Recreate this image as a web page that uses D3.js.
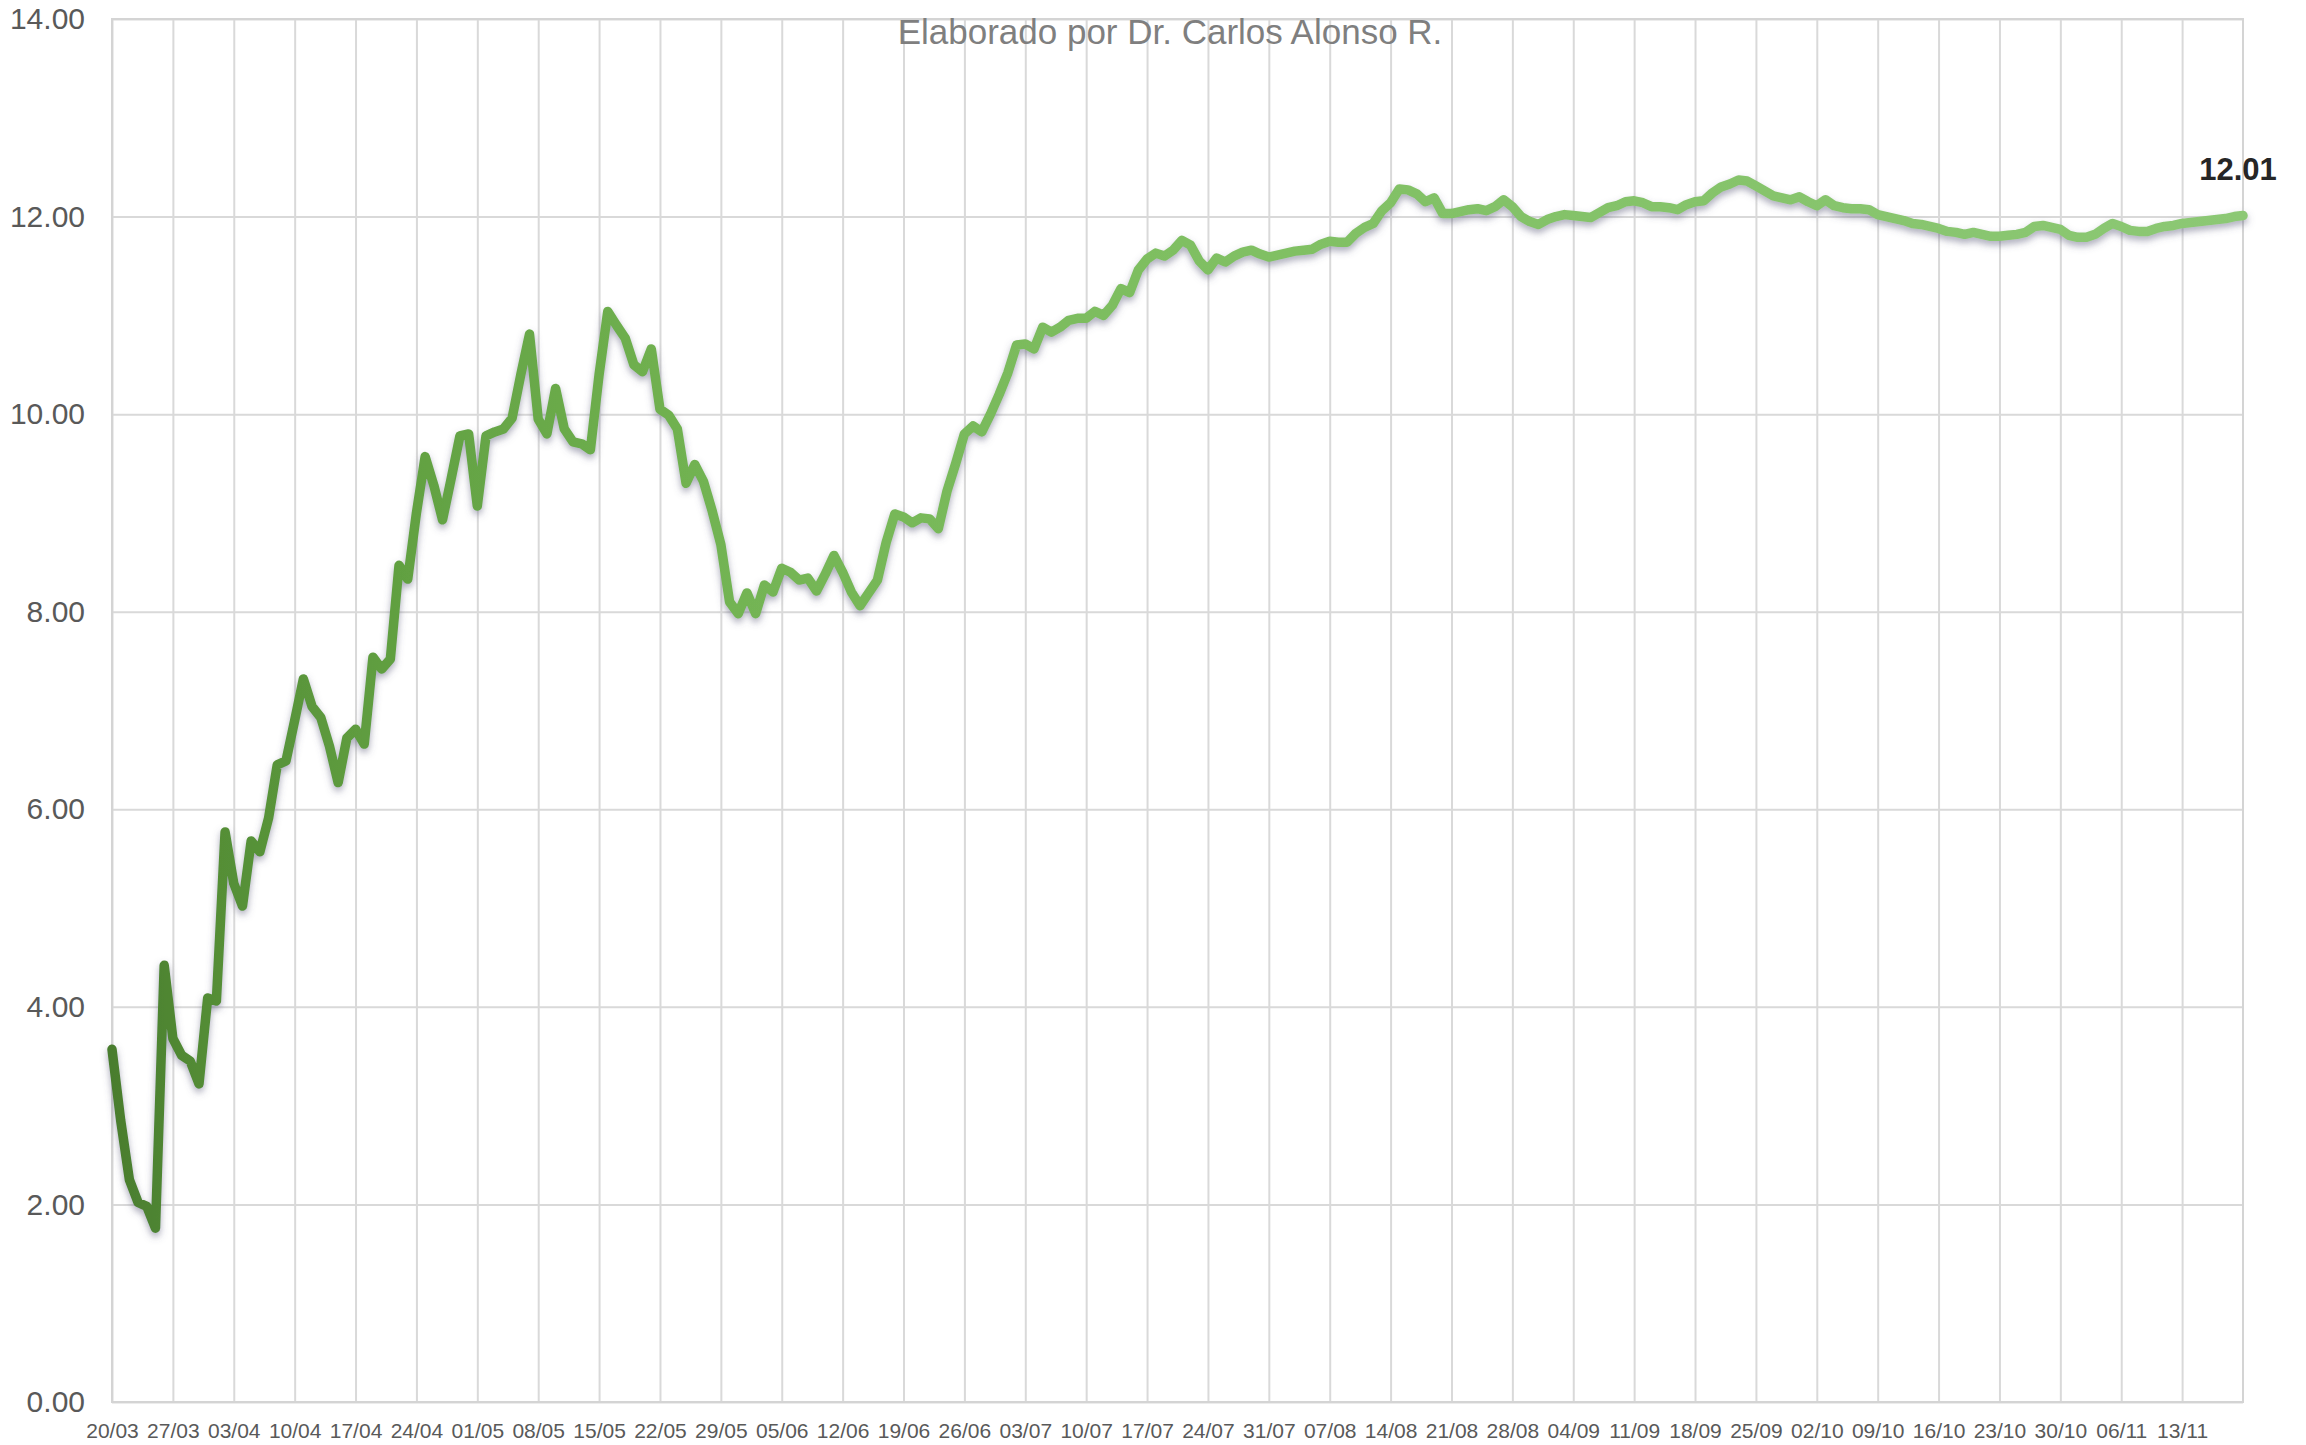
<!DOCTYPE html>
<html>
<head>
<meta charset="utf-8">
<script src="https://cdn.jsdelivr.net/npm/d3@7"></script>
<style>
  body { margin: 0; background: #ffffff; }
  svg { display: block; }
</style>
</head>
<body>
<div id="chart"></div>
<script>
var startDate = "20/03/2020";
var endDate = "20/11/2020";

var tickLabels = ["20/03","27/03","03/04","10/04","17/04","24/04","01/05","08/05","15/05","22/05",
  "29/05","05/06","12/06","19/06","26/06","03/07","10/07","17/07","24/07","31/07","07/08","14/08",
  "21/08","28/08","04/09","11/09","18/09","25/09","02/10","09/10","16/10","23/10","30/10","06/11","13/11"];

var yTicks = [0, 2, 4, 6, 8, 10, 12, 14];

// one value per day, 20/03 -> 20/11
var values = [
  3.57, 2.85, 2.25, 2.02, 1.98, 1.76, 4.42, 3.68, 3.51, 3.45,
  3.22, 4.09, 4.06, 5.77, 5.25, 5.02, 5.68, 5.57, 5.91, 6.45,
  6.49, 6.90, 7.32, 7.04, 6.93, 6.64, 6.27, 6.72, 6.81, 6.66,
  7.54, 7.42, 7.52, 8.47, 8.33, 9.00, 9.57, 9.28, 8.93, 9.35,
  9.78, 9.80, 9.07, 9.78, 9.82, 9.85, 9.96, 10.40, 10.81, 9.95,
  9.80, 10.26, 9.85, 9.72, 9.70, 9.64, 10.40, 11.04, 10.90, 10.77,
  10.50, 10.43, 10.66, 10.05, 9.99, 9.85, 9.30, 9.49, 9.32, 9.02,
  8.68, 8.10, 7.98, 8.19, 7.98, 8.27, 8.20, 8.44, 8.40, 8.32,
  8.34, 8.21, 8.38, 8.57, 8.40, 8.20, 8.06, 8.19, 8.32, 8.70,
  8.99, 8.96, 8.90, 8.95, 8.94, 8.84, 9.22, 9.50, 9.80, 9.88,
  9.82, 10.00, 10.20, 10.42, 10.70, 10.71, 10.66, 10.88, 10.83, 10.88,
  10.95, 10.97, 10.97, 11.04, 11.00, 11.10, 11.27, 11.23, 11.46, 11.57,
  11.63, 11.60, 11.66, 11.76, 11.71, 11.55, 11.46, 11.58, 11.54, 11.60,
  11.64, 11.66, 11.62, 11.59, 11.61, 11.63, 11.65, 11.66, 11.67, 11.72,
  11.75, 11.74, 11.74, 11.83, 11.89, 11.93, 12.06, 12.14, 12.28, 12.27,
  12.23, 12.15, 12.19, 12.03, 12.03, 12.05, 12.07, 12.08, 12.06, 12.10,
  12.17, 12.10, 12.00, 11.95, 11.92, 11.97, 12.00, 12.02, 12.01, 12.00,
  11.99, 12.04, 12.09, 12.11, 12.15, 12.16, 12.14, 12.10, 12.10, 12.09,
  12.07, 12.12, 12.15, 12.16, 12.24, 12.30, 12.33, 12.37, 12.36, 12.31,
  12.26, 12.21, 12.19, 12.17, 12.20, 12.15, 12.11, 12.17, 12.11, 12.09,
  12.08, 12.08, 12.07, 12.02, 12.00, 11.98, 11.96, 11.93, 11.92, 11.90,
  11.88, 11.85, 11.84, 11.82, 11.84, 11.82, 11.80, 11.80, 11.81, 11.82,
  11.84, 11.90, 11.91, 11.89, 11.87, 11.81, 11.79, 11.79, 11.82, 11.88,
  11.93, 11.90, 11.86, 11.85, 11.85, 11.88, 11.90, 11.91, 11.93, 11.94,
  11.95, 11.96, 11.97, 11.98, 12.00, 12.01
];

var subtitle = "Elaborado por Dr. Carlos Alonso R.";
var lastLabel = "12.01";

function drawChart(divSelector) {
  var width = 2306, height = 1445;
  var left = 112, right = 2243, top = 19, bottom = 1402;
  var font = "'Liberation Sans', Arial, sans-serif";

  var parseDay = d3.timeParse("%d/%m/%Y");
  var first = parseDay(startDate), last = parseDay(endDate);
  var days = d3.timeDay.range(first, d3.timeDay.offset(last, 1));
  var data = values.map(function(v, i) { return {date: days[i], value: v}; });
  var tickDates = tickLabels.map(function(t) { return parseDay(t + "/2020"); });

  var x = d3.scaleTime().domain([first, last]).range([left, right]);
  var y = d3.scaleLinear().domain([0, 14]).range([bottom, top]);

  var svg = d3.select(divSelector).append("svg")
    .attr("width", width)
    .attr("height", height);

  var defs = svg.append("defs");
  var grad = defs.append("linearGradient")
    .attr("id", "lineGrad")
    .attr("gradientUnits", "userSpaceOnUse")
    .attr("x1", left).attr("x2", right)
    .attr("y1", 0).attr("y2", 0);
  [[0, "#4a7d2e"], [0.05, "#548e36"], [0.14, "#62a142"], [0.28, "#72b352"],
   [0.5, "#7fbf62"], [1, "#8cc874"]].forEach(function(s) {
    grad.append("stop").attr("offset", s[0]).attr("stop-color", s[1]);
  });

  var shadow = defs.append("filter")
    .attr("id", "shadow")
    .attr("x", "-5%").attr("y", "-5%")
    .attr("width", "110%").attr("height", "110%");
  shadow.append("feDropShadow")
    .attr("dx", 0).attr("dy", 4)
    .attr("stdDeviation", 3.5)
    .attr("flood-color", "#5a5a78")
    .attr("flood-opacity", 0.5);

  // vertical gridlines (weekly)
  svg.append("g")
    .attr("transform", "translate(0," + bottom + ")")
    .call(d3.axisBottom(x).tickValues(tickDates).tickSize(-(bottom - top)).tickFormat(""))
    .call(function(g) {
      g.select(".domain").remove();
      g.selectAll("line").attr("stroke", "#d9d9d9").attr("stroke-width", 2);
    });

  // horizontal gridlines + y labels
  svg.append("g")
    .attr("transform", "translate(" + left + ",0)")
    .call(d3.axisLeft(y).tickValues(yTicks).tickSize(-(right - left)).tickPadding(27).tickFormat(d3.format(".2f")))
    .call(function(g) {
      g.select(".domain").remove();
      g.selectAll("line").attr("stroke", "#d9d9d9").attr("stroke-width", 2);
      g.selectAll("text")
        .attr("fill", "#595959")
        .style("font-family", font)
        .style("font-size", "30px");
    });

  // plot frame
  svg.append("rect")
    .attr("x", left).attr("y", top)
    .attr("width", right - left).attr("height", bottom - top)
    .attr("fill", "none")
    .attr("stroke", "#d4d4d4")
    .attr("stroke-width", 2);

  // x labels
  svg.append("g")
    .attr("transform", "translate(0," + bottom + ")")
    .call(d3.axisBottom(x).tickValues(tickDates).tickSize(0).tickPadding(21)
      .tickFormat(function(d, i) { return tickLabels[i]; }))
    .call(function(g) {
      g.select(".domain").remove();
      g.selectAll("text")
        .attr("fill", "#595959")
        .style("font-family", font)
        .style("font-size", "21px");
    });

  svg.append("text")
    .attr("x", 1170)
    .attr("y", 44)
    .attr("text-anchor", "middle")
    .attr("fill", "#7f7f7f")
    .style("font-family", font)
    .style("font-size", "35px")
    .text(subtitle);

  var line = d3.line()
    .x(function(d) { return x(d.date); })
    .y(function(d) { return y(d.value); });

  svg.append("path")
    .datum(data)
    .attr("d", line)
    .attr("fill", "none")
    .attr("stroke", "url(#lineGrad)")
    .attr("stroke-width", 9.5)
    .attr("stroke-linejoin", "round")
    .attr("stroke-linecap", "round")
    .attr("filter", "url(#shadow)");

  var lastPoint = data[data.length - 1];
  svg.append("text")
    .attr("x", x(lastPoint.date) - 5)
    .attr("y", y(lastPoint.value) - 36)
    .attr("text-anchor", "middle")
    .attr("fill", "#262626")
    .style("font-family", font)
    .style("font-weight", "bold")
    .style("font-size", "31px")
    .text(lastLabel);
}

drawChart("#chart");
</script>
</body>
</html>
